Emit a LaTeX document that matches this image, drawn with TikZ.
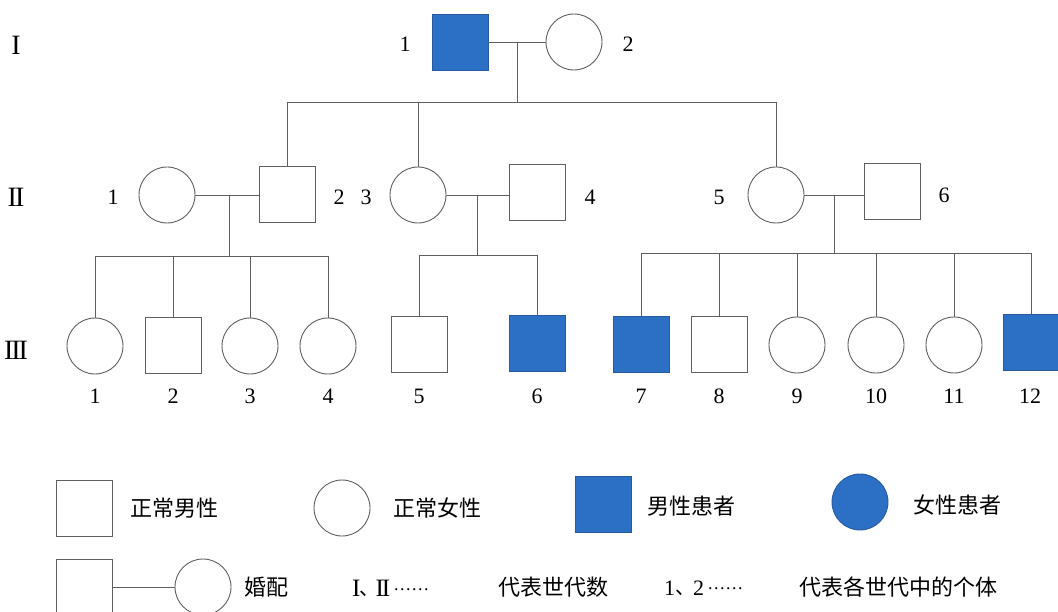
\documentclass[tikz,border=0pt]{standalone}
\usepackage{fontspec}
\setmainfont{Liberation Serif}
\newfontfamily\cjk{Noto Sans CJK SC}
\definecolor{aff}{RGB}{44,112,198}
\definecolor{affb}{RGB}{40,90,160}
\definecolor{linec}{RGB}{95,95,95}
\newcommand{\mydots}{\raisebox{6pt}{\fontsize{18}{18}\selectfont .\kern1.5pt.\kern1.5pt.\kern1.5pt.\kern1.5pt.\kern1.5pt.}}
\begin{document}
\begin{tikzpicture}[x=1pt,y=-1pt,
  male/.style={rectangle,draw=linec,line width=0.9pt,minimum size=56pt,inner sep=0pt},
  female/.style={circle,draw=linec,line width=0.9pt,minimum size=56pt,inner sep=0pt},
  amale/.style={male,fill=aff,draw=affb},
  afemale/.style={female,fill=aff,draw=affb},
  num/.style={font=\fontsize{22}{24}\selectfont,inner sep=0pt},
  rom/.style={font=\fontsize{28}{30}\selectfont,inner sep=0pt},
  ctext/.style={font=\cjk\fontsize{22}{24}\selectfont,inner sep=0pt},
  link/.style={draw=linec,line width=0.9pt}]
\useasboundingbox (0,0) rectangle (1058,612);
\clip (0,0) rectangle (1058,612);
\fill[white] (0,0) rectangle (1058,612);

% generation labels
\node[rom] (gI) at (16,45) {I};
\node[rom] (gII) at (16,197) {I\kern-2pt I};
\node[rom] (gIII) at (16,350) {I\kern-2pt I\kern-2pt I};

% generation I
\node[amale] (I1) at (460,42) {};
\node[female] (I2) at (574,42) {};
\node[num] (lI1) at (405,44) {1};
\node[num] (lI2) at (628,44) {2};

% generation II
\node[female] (II1) at (167,195) {};
\node[male] (II2) at (287,194) {};
\node[female] (II3) at (418,195) {};
\node[male] (II4) at (537,192) {};
\node[female] (II5) at (776,195) {};
\node[male] (II6) at (892,191) {};
\node[num] (lII1) at (113,197) {1};
\node[num] (lII2) at (339,197) {2};
\node[num] (lII3) at (366,197) {3};
\node[num] (lII4) at (590,197) {4};
\node[num] (lII5) at (719,197) {5};
\node[num] (lII6) at (944,195) {6};

% generation III
\node[female] (III1) at (95,346) {};
\node[male] (III2) at (173,345) {};
\node[female] (III3) at (250,346) {};
\node[female] (III4) at (328,346) {};
\node[male] (III5) at (419,344) {};
\node[amale] (III6) at (537,343) {};
\node[amale] (III7) at (641,344) {};
\node[male] (III8) at (719,344) {};
\node[female] (III9) at (797,345) {};
\node[female] (III10) at (876,345) {};
\node[female] (III11) at (954,345) {};
\node[amale] (III12) at (1031,342) {};
\foreach \n/\x in {1/95,2/173,3/250,4/328,5/419,6/537,7/641,8/719,9/797,10/876,11/954,12/1030}
  \node[num] (lIII\n) at (\x,396) {\n};

% family I
\coordinate (m1) at (517,42);
\coordinate (s1) at (517,102);
\draw[link] (I1.east) -- (I2.west);
\draw[link] (m1) -- (s1);
\draw[link] (s1 -| II2.north) -- (s1 -| II5.north);
\draw[link] (s1 -| II2.north) -- (II2.north);
\draw[link] (s1 -| II3.north) -- (II3.north);
\draw[link] (s1 -| II5.north) -- (II5.north);

% family II-1 x II-2
\coordinate (m2) at (229,195);
\coordinate (s2) at (229,256);
\draw[link] (II1.east) -- (II1.east -| II2.west);
\draw[link] (m2) -- (s2);
\draw[link] (s2 -| III1.north) -- (s2 -| III4.north);
\foreach \c in {III1,III2,III3,III4}
  \draw[link] (s2 -| \c.north) -- (\c.north);

% family II-3 x II-4
\coordinate (m3) at (477,195);
\coordinate (s3) at (477,255);
\draw[link] (II3.east) -- (II3.east -| II4.west);
\draw[link] (m3) -- (s3);
\draw[link] (s3 -| III5.north) -- (s3 -| III6.north);
\foreach \c in {III5,III6}
  \draw[link] (s3 -| \c.north) -- (\c.north);

% family II-5 x II-6
\coordinate (m4) at (834,195);
\coordinate (s4) at (834,253);
\draw[link] (II5.east) -- (II5.east -| II6.west);
\draw[link] (m4) -- (s4);
\draw[link] (s4 -| III7.north) -- (s4 -| III12.north);
\foreach \c in {III7,III8,III9,III10,III11,III12}
  \draw[link] (s4 -| \c.north) -- (\c.north);

% legend row 1
\node[male] (Lm) at (84,508) {};
\node[ctext] (tLm) at (174,508) {正常男性};
\node[female] (Lf) at (342,508) {};
\node[ctext] (tLf) at (437,508) {正常女性};
\node[amale] (Lam) at (603,504) {};
\node[ctext] (tLam) at (691,506) {男性患者};
\node[afemale] (Laf) at (860,502) {};
\node[ctext] (tLaf) at (957,505) {女性患者};

% legend row 2
\node[male] (Mm) at (84,587) {};
\node[female] (Mf) at (203,587) {};
\draw[link] (Mm.east) -- (Mf.west);
\node[ctext] (tM) at (266,587) {婚配};
\node[anchor=west,inner sep=0pt,font=\fontsize{25}{27}\selectfont] (tG) at (352,588) {I\kern-1pt\raisebox{1pt}{\cjk\fontsize{20}{20}\selectfont 、}\kern-4pt I\kern-2pt I\kern4pt\mydots};
\node[ctext] (tGd) at (553,587) {代表世代数};
\node[num,anchor=west] (tN) at (664,588) {1\raisebox{1pt}{\cjk\fontsize{20}{20}\selectfont 、}\kern-2pt 2\kern4pt\mydots};
\node[ctext] (tNd) at (898,587) {代表各世代中的个体};
\end{tikzpicture}
\end{document}
